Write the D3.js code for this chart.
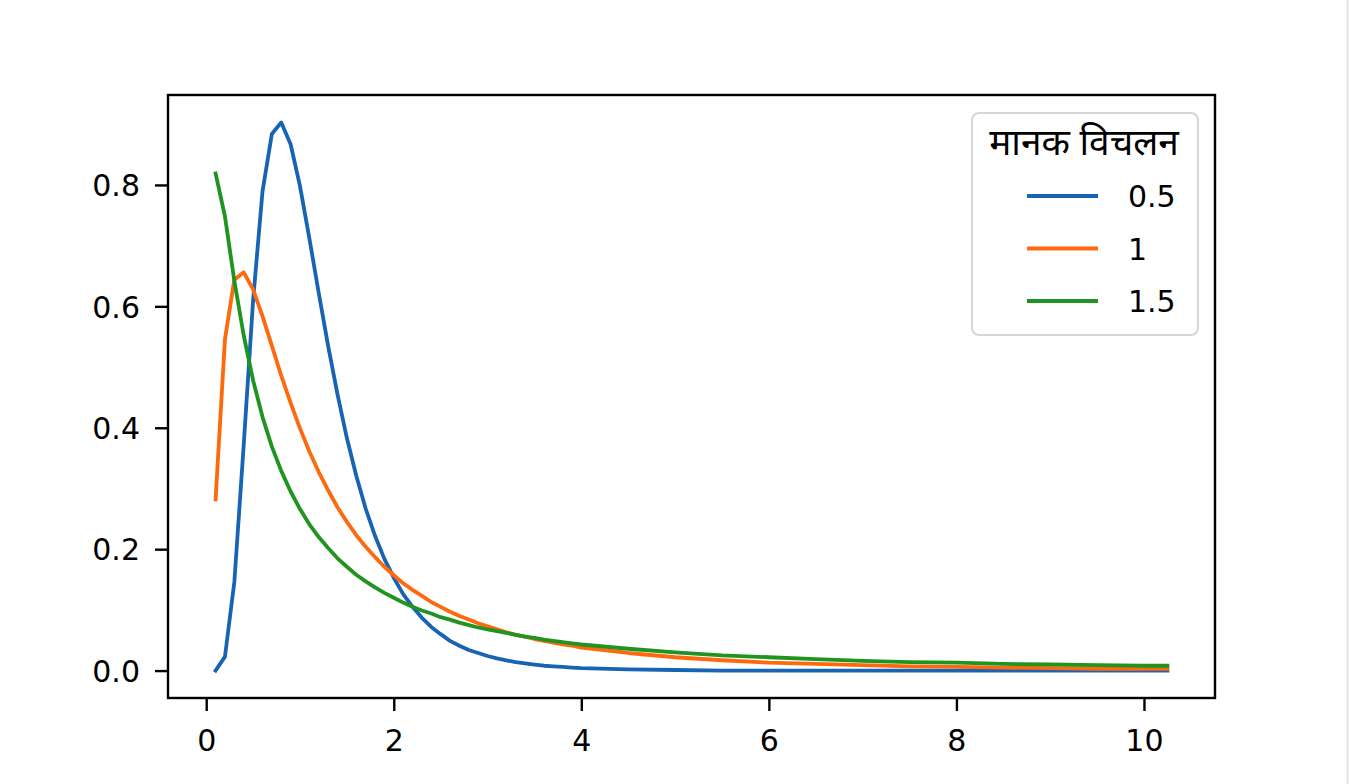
<!DOCTYPE html>
<html>
<head>
<meta charset="utf-8">
<script src="https://cdn.jsdelivr.net/npm/d3@7"></script>
<style>
    body { margin: 0; background: #ffffff; }
    svg { display: block; }
</style>
</head>
<body>
<script>
    // x positions (denser where the curves bend)
    var xs = [0.1, 0.2, 0.3, 0.4, 0.5, 0.6, 0.7, 0.8, 0.9, 1.0,
              1.1, 1.2, 1.3, 1.4, 1.5, 1.6, 1.7, 1.8, 1.9, 2.0,
              2.1, 2.2, 2.3, 2.4, 2.5, 2.6, 2.7, 2.8, 2.9, 3.0,
              3.1, 3.2, 3.3, 3.4, 3.5, 3.6, 3.7, 3.8, 3.9, 4.0,
              4.5, 5.0, 5.5, 6.0, 6.5, 7.0, 7.5, 8.0, 8.5, 9.0,
              9.5, 10.0, 10.25];

    var sd05 = [0.000, 0.023, 0.146, 0.372, 0.610, 0.789, 0.884, 0.903, 0.867, 0.798,
                0.712, 0.622, 0.535, 0.455, 0.383, 0.321, 0.267, 0.222, 0.184, 0.153,
                0.126, 0.105, 0.087, 0.072, 0.060, 0.049, 0.041, 0.034, 0.029, 0.024,
                0.020, 0.017, 0.014, 0.012, 0.010, 0.008, 0.007, 0.006, 0.005, 0.004,
                0.002, 0.001, 0.000, 0.000, 0.000, 0.000, 0.000, 0.000, 0.000, 0.000,
                0.000, 0.000, 0.000];

    var sd1 = [0.282, 0.546, 0.644, 0.656, 0.628, 0.584, 0.535, 0.486, 0.441, 0.399,
               0.361, 0.327, 0.297, 0.269, 0.245, 0.223, 0.204, 0.187, 0.171, 0.157,
               0.144, 0.133, 0.123, 0.113, 0.105, 0.097, 0.090, 0.084, 0.078, 0.073,
               0.068, 0.063, 0.059, 0.056, 0.052, 0.049, 0.046, 0.043, 0.041, 0.038,
               0.029, 0.022, 0.017, 0.013, 0.011, 0.009, 0.007, 0.006, 0.005, 0.004,
               0.003, 0.003, 0.003];

    var sd15 = [0.819, 0.748, 0.642, 0.552, 0.478, 0.418, 0.369, 0.329, 0.295, 0.266,
                0.241, 0.220, 0.202, 0.185, 0.171, 0.158, 0.147, 0.137, 0.128, 0.120,
                0.112, 0.105, 0.099, 0.094, 0.088, 0.084, 0.079, 0.075, 0.071, 0.068,
                0.065, 0.062, 0.059, 0.056, 0.054, 0.051, 0.049, 0.047, 0.045, 0.043,
                0.036, 0.030, 0.025, 0.022, 0.019, 0.016, 0.014, 0.013, 0.011, 0.010,
                0.009, 0.008, 0.008];

    var seriesNames = ["0.5", "1", "1.5"];
    var seriesColors = ["#1764b4", "#ff690d", "#1f9420"];
    var legendTitle = "मानक विचलन";
    var xTicks = [0, 2, 4, 6, 8, 10];
    var yTicks = [0.0, 0.2, 0.4, 0.6, 0.8];

    var series = [sd05, sd1, sd15];

    var width = 1349, height = 784;
    var margin = {"top": 95, "bottom": 86, "left": 168, "right": 134};

    var svg = d3.select("body")
        .append("svg")
        .attr("width", width)
        .attr("height", height);

    // matplotlib-like 5% padding around the data
    var xMin = d3.min(xs), xMax = d3.max(xs);
    var xPad = (xMax - xMin) * 0.05;
    var yMin = d3.min(series, s => d3.min(s)), yMax = d3.max(series, s => d3.max(s));
    var yPad = (yMax - yMin) * 0.05;

    var xScale = d3.scaleLinear()
        .domain([xMin - xPad, xMax + xPad])
        .range([margin.left, width - margin.right]);

    var yScale = d3.scaleLinear()
        .domain([yMin - yPad, yMax + yPad])
        .range([height - margin.bottom, margin.top]);

    //curves
    var line = d3.line()
        .x((d, i) => xScale(xs[i]))
        .y(d => yScale(d));

    svg.append("g")
        .attr("id", "curves")
        .selectAll("path")
        .data(series)
        .enter()
        .append("path")
        .attr("d", line)
        .attr("fill", "none")
        .attr("stroke", (d, i) => seriesColors[i])
        .attr("stroke-width", 3.8)
        .attr("stroke-linejoin", "round")
        .attr("stroke-linecap", "square");

    //axes
    var xAxis = svg.append("g")
        .attr("transform", "translate(0," + (height - margin.bottom) + ")")
        .call(d3.axisBottom(xScale).tickValues(xTicks).tickFormat(d3.format("d")).tickSize(13));

    var yAxis = svg.append("g")
        .attr("transform", "translate(" + margin.left + ",0)")
        .call(d3.axisLeft(yScale).tickValues(yTicks).tickFormat(d3.format(".1f")).tickSize(13).tickPadding(15));

    [xAxis, yAxis].forEach(function(ax) {
        ax.select(".domain").remove();
        ax.selectAll("line")
            .attr("stroke", "#000")
            .attr("stroke-width", 2.4);
        ax.selectAll("text")
            .attr("fill", "#000")
            .style("font-family", "DejaVu Sans")
            .style("font-size", "30px");
    });
    yAxis.selectAll("text").attr("dy", "0.36em");
    xAxis.selectAll("text").attr("y", 53).attr("dy", 0);

    //frame
    svg.append("rect")
        .attr("x", margin.left)
        .attr("y", margin.top)
        .attr("width", width - margin.left - margin.right)
        .attr("height", height - margin.top - margin.bottom)
        .attr("fill", "none")
        .attr("stroke", "#000")
        .attr("stroke-width", 2.4);

    //legend
    var legend = svg.append("g").attr("id", "legend");

    legend.append("rect")
        .attr("x", 972)
        .attr("y", 113)
        .attr("width", 226)
        .attr("height", 222)
        .attr("rx", 7)
        .attr("fill", "#fff")
        .attr("fill-opacity", 0.8)
        .attr("stroke", "#d6d6d6")
        .attr("stroke-width", 2);

    legend.append("text")
        .attr("x", 1084)
        .attr("y", 155)
        .attr("text-anchor", "middle")
        .style("font-family", "'Noto Sans Devanagari', 'Noto Sans', 'DejaVu Sans', sans-serif")
        .style("font-size", "37px")
        .text(legendTitle);

    var items = legend.selectAll("g.item")
        .data(seriesNames)
        .enter()
        .append("g")
        .attr("class", "item")
        .attr("transform", (d, i) => "translate(0," + (196 + i * 52.5) + ")");

    items.append("line")
        .attr("x1", 1027)
        .attr("x2", 1098)
        .attr("stroke", (d, i) => seriesColors[i])
        .attr("stroke-width", 3.8);

    items.append("text")
        .attr("x", 1128)
        .attr("y", 11)
        .style("font-family", "DejaVu Sans")
        .style("font-size", "30px")
        .text(d => d);

    //thin grey edge on the right side of the picture
    svg.append("line")
        .attr("x1", width - 1.5)
        .attr("x2", width - 1.5)
        .attr("y1", 0)
        .attr("y2", height)
        .attr("stroke", "#e4e4e4")
        .attr("stroke-width", 2);
</script>
</body>
</html>
